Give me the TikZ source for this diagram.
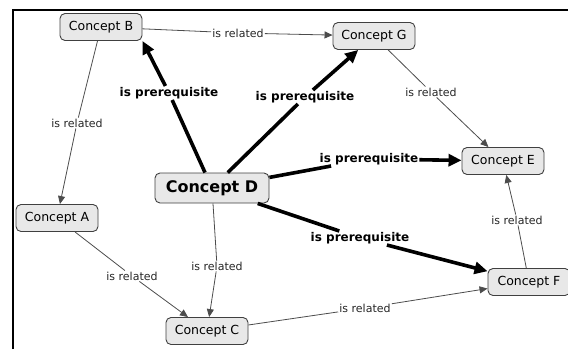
\documentclass[tikz,border=0pt]{standalone}
\usepackage{fontspec}
\setmainfont{DejaVu Sans}
\usetikzlibrary{arrows.meta}
\begin{document}
\begin{tikzpicture}[x=1pt,y=-1pt,
  concept/.style={draw=black!75, line width=0.9pt, rounded corners=5pt, fill=gray!18,
    minimum width=82pt, minimum height=27pt, inner sep=2pt, font=\fontsize{12.5}{14}\selectfont},
  bigconcept/.style={concept, minimum width=114pt, minimum height=30pt, font=\fontsize{16}{18}\selectfont\bfseries},
  rel/.style={fill=white, inner sep=1pt, font=\fontsize{11}{13}\selectfont, text=black!85},
  pre/.style={fill=white, inner sep=1pt, font=\fontsize{12}{14}\selectfont\bfseries},
  thinline/.style={draw=black!70, line width=0.8pt},
  thinarrow/.style={thinline, -{Triangle[length=8pt,width=7pt]}},
  thickline/.style={draw=black, line width=3.6pt},
  thickarrow/.style={thickline, -{Triangle[length=13pt,width=12pt]}}
]
\useasboundingbox (0,0) rectangle (568,349);
% frame
\coordinate (f1) at (13,349);
\coordinate (f2) at (13,10);
\coordinate (f3) at (568,10);
\draw[line width=1.8pt] (f1) -- (f2) -- (f3);

% concepts
\node[concept] (B) at (101,27) {Concept B};
\node[concept] (G) at (374,36) {Concept G};
\node[concept] (E) at (503,161) {Concept E};
\node[bigconcept] (D) at (212,188) {Concept D};
\node[concept] (A) at (57,218) {Concept A};
\node[concept] (F) at (529,282) {Concept F};
\node[concept] (C) at (207,331) {Concept C};

% labels
\node[rel] (lBG) at (238,33) {is related};
\node[rel] (lBA) at (77,123) {is related};
\node[pre] (lDB) at (169,93) {is prerequisite};
\node[pre] (lDG) at (305,97) {is prerequisite};
\node[pre] (lDE) at (369,159) {is prerequisite};
\node[pre] (lDF) at (360,238) {is prerequisite};
\node[rel] (lDC) at (217,266) {is related};
\node[rel] (lAC) at (132,276) {is related};
\node[rel] (lCF) at (365,308) {is related};
\node[rel] (lFE) at (517,220) {is related};
\node[rel] (lGE) at (431,92) {is related};

% connectors
\draw[thinline] (B) -- (lBG);
\draw[thinarrow] (lBG) -- (G);
\draw[thinline] (B) -- (lBA);
\draw[thinarrow] (lBA) -- (A);
\draw[thickline] (D) -- (lDB);
\draw[thickarrow] (lDB) -- (B.south east);
\draw[thickline] (D) -- (lDG);
\draw[thickarrow] (lDG) -- (G);
\draw[thickline] (D) -- (lDE);
\draw[thickarrow] (lDE) -- (E);
\draw[thickline] (D) -- (lDF);
\draw[thickarrow] (lDF) -- (F);
\draw[thinline] (D) -- (lDC);
\draw[thinarrow] (lDC) -- (C);
\draw[thinline] (A) -- (lAC);
\draw[thinarrow] (lAC) -- (C);
\draw[thinline] (C) -- (lCF);
\draw[thinarrow] (lCF) -- (F);
\draw[thinline] (F) -- (lFE);
\draw[thinarrow] (lFE) -- (E);
\draw[thinline] (G) -- (lGE);
\draw[thinarrow] (lGE) -- (E);
\end{tikzpicture}
\end{document}
